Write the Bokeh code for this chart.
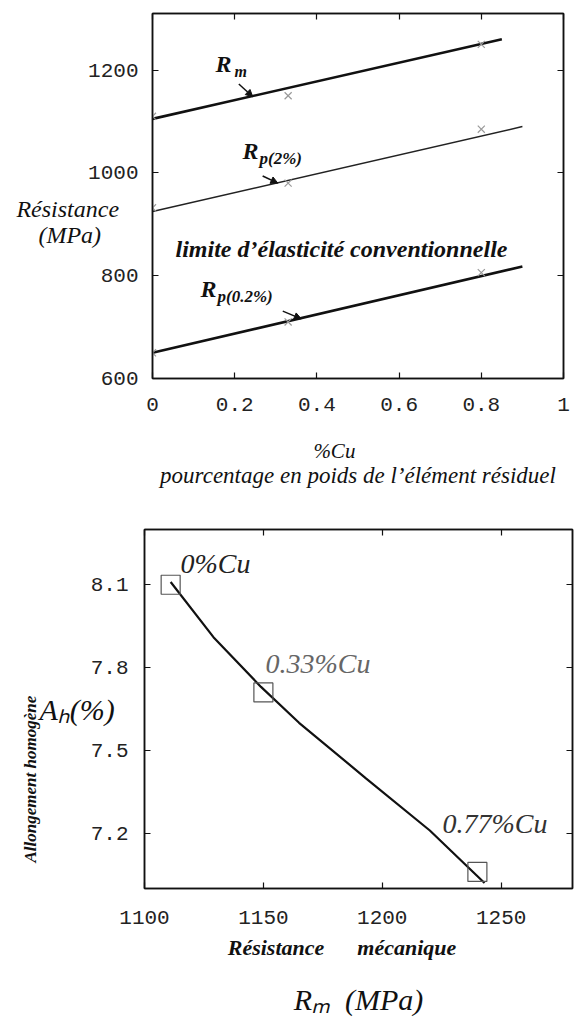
import numpy as np
from bokeh.plotting import figure
from bokeh.layouts import column
from bokeh.models import (Label, Arrow, NormalHead, LinearAxis, FixedTicker, Range1d,
                          NumeralTickFormatter, CustomLabelingPolicy)
from bokeh.embed import file_html
from bokeh.resources import INLINE

# ---------------- data: top chart ----------------
cu_pts = [0.0, 0.33, 0.80]
rm_pts = [1110, 1150, 1250]
rp2_pts = [932, 980, 1085]
rp02_pts = [650, 710, 806]
rm_fit_x = [0.0, 0.85]
rm_fit_y = [1105, 1260]
rp_fit_x = [0.0, 0.90]
rp2_fit_y = [925, 1090]
rp02_fit_y = [650, 818]
x1_ticks = [0, 0.2, 0.4, 0.6, 0.8, 1]
y1_ticks = [600, 800, 1000, 1200]

# ---------------- data: bottom chart ----------------
rm_sq = [1111, 1150, 1240]
ah_sq = [8.10, 7.71, 7.06]
sq_labels = ["0%Cu", "0.33%Cu", "0.77%Cu"]
rm_curve = [1111, 1129, 1149, 1165, 1193, 1220, 1243]
ah_curve = [8.11, 7.91, 7.73, 7.60, 7.40, 7.21, 7.02]
x2_ticks = [1100, 1150, 1200, 1250]
y2_ticks = [7.2, 7.5, 7.8, 8.1]

SERIF = "Liberation Serif"
MONO = "Liberation Mono"
W = 584
H1 = 500
H2 = 520
TOP1 = 0
TOP2 = H1
NB = "\u00a0"
HAS_ORIENT = "axis_label_orientation" in LinearAxis.properties()


def no_labels():
    return CustomLabelingPolicy(code="return new Set()")


def style_axes(p, xt, yt, xfmt, yfmt, ystand, xstand):
    for ax in p.xaxis:
        ax.ticker = FixedTicker(ticks=xt)
        ax.formatter = NumeralTickFormatter(format=xfmt)
        ax.major_label_standoff = xstand
    for ax in p.yaxis:
        ax.ticker = FixedTicker(ticks=yt)
        ax.formatter = NumeralTickFormatter(format=yfmt)
        ax.major_label_standoff = ystand
    for ax in p.axis:
        ax.major_tick_in = 6
        ax.major_tick_out = 0
        ax.minor_tick_line_color = None
        ax.axis_line_width = 1.5
        ax.axis_line_color = "#111"
        ax.major_tick_line_color = "#111"
        ax.major_tick_line_width = 1.2
        ax.major_label_text_font = MONO
        ax.major_label_text_font_size = "21px"
        ax.major_label_text_color = "#222"
    for place, t in (("right", yt), ("above", xt)):
        a = LinearAxis(ticker=FixedTicker(ticks=t), major_tick_in=6, major_tick_out=0,
                       minor_tick_line_color=None, major_label_text_font_size="2px",
                       major_label_standoff=0, major_label_policy=no_labels(),
                       axis_line_width=1.5, axis_line_color="#111",
                       major_tick_line_color="#111", major_tick_line_width=1.2)
        p.add_layout(a, place)


def set_label(a, text, size, standoff, style="italic", horizontal=False, line_height=None):
    a.axis_label = text
    a.axis_label_text_font = SERIF
    a.axis_label_text_font_style = style
    a.axis_label_text_font_size = f"{size}px"
    a.axis_label_text_color = "#111"
    a.axis_label_standoff = standoff
    if line_height is not None:
        a.axis_label_text_line_height = line_height
    if horizontal and HAS_ORIENT:
        a.axis_label_orientation = "horizontal"


def label_axis(p, place, text, size, standoff, style="italic"):
    a = LinearAxis(ticker=FixedTicker(ticks=[]), axis_line_color=None,
                   major_tick_line_color=None, minor_tick_line_color=None,
                   major_label_text_font_size="2px", major_label_standoff=0,
                   major_tick_in=0, major_tick_out=0)
    set_label(a, text, size, standoff, style)
    p.add_layout(a, place)
    return a


def lab(p, top, text, px, py, size, style="italic", align="left", color="#111"):
    p.add_layout(Label(x=px, y=py - top, x_units="canvas", y_units="canvas",
                       text=text, text_font=SERIF, text_font_size=f"{size}px",
                       text_font_style=style, text_align=align, text_baseline="middle",
                       text_color=color))


# ================= top figure =================
p1 = figure(width=W, height=H1, output_backend="svg", toolbar_location=None,
            x_range=Range1d(0, 1), y_range=Range1d(600, 1310),
            min_border_left=152, min_border_right=21, min_border_top=13, min_border_bottom=122)
p1.frame_align = False
p1.grid.visible = False
p1.outline_line_color = "#111"
p1.outline_line_width = 1.5
style_axes(p1, x1_ticks, y1_ticks, "0.[0]", "0", 14, 19)

set_label(p1.yaxis[0], NB + "\n" + NB + "\nRésistance\n(MPa)" + NB * 3, 24, -34,
          horizontal=True, line_height=1.0)
label_axis(p1, "below", "%Cu" + NB * 9, 21, 25)
label_axis(p1, "below", "pourcentage en poids de l\u2019élément résiduel", 23, -3)

p1.line(rm_fit_x, rm_fit_y, line_color="#111", line_width=2.6)
p1.line(rp_fit_x, rp2_fit_y, line_color="#222", line_width=1.5)
p1.line(rp_fit_x, rp02_fit_y, line_color="#111", line_width=2.6)
for ys in (rm_pts, rp2_pts, rp02_pts):
    p1.scatter(cu_pts, ys, marker="x", size=10, line_color="#9a9a9a", line_width=1.2)

for (x0, y0, x1, y1) in [(0.21, 1173, 0.244, 1148), (0.268, 994, 0.305, 980), (0.317, 731, 0.362, 716)]:
    p1.add_layout(Arrow(end=NormalHead(size=7, fill_color="#111", line_color="#111"),
                        x_start=x0, y_start=y0, x_end=x1, y_end=y1,
                        line_color="#111", line_width=1.5))

lab(p1, TOP1, "R", 215, 63, 24, "bold italic")
lab(p1, TOP1, "m", 234, 71, 16, "bold italic")
lab(p1, TOP1, "R", 242, 150, 24, "bold italic")
lab(p1, TOP1, "p(2%)", 259, 158, 17, "bold italic")
lab(p1, TOP1, "limite d\u2019élasticité conventionnelle", 175, 248, 24, "bold italic")
lab(p1, TOP1, "R", 200, 288, 24, "bold italic")
lab(p1, TOP1, "p(0.2%)", 217, 296, 17, "bold italic")

# ================= bottom figure =================
p2 = figure(width=W, height=H2, output_backend="svg", toolbar_location=None,
            x_range=Range1d(1100, 1280), y_range=Range1d(7.0, 8.3),
            min_border_left=144, min_border_right=12, min_border_top=29, min_border_bottom=132)
p2.frame_align = False
p2.grid.visible = False
p2.outline_line_color = "#111"
p2.outline_line_width = 1.5
style_axes(p2, x2_ticks, y2_ticks, "0", "0.0", 16, 22)

set_label(p2.yaxis[0], "A\u2095(%)", 30, -27, horizontal=True)
label_axis(p2, "left", "Allongement homogène" + NB * 33, 17, -3, style="bold italic")
label_axis(p2, "below", "Résistance" + NB * 6 + "mécanique" + NB * 6, 22, 8,
           style="bold italic")
label_axis(p2, "below", "R\u2098" + NB * 2 + "(MPa)", 30, 20)

p2.line(rm_curve, ah_curve, line_color="#111", line_width=2.2)
p2.scatter(rm_sq, ah_sq, marker="square", size=19, fill_color=None,
           line_color="#555", line_width=1.2)

lab(p2, TOP2, sq_labels[0], 180, 563, 28, "italic", color="#222")
lab(p2, TOP2, sq_labels[1], 265, 663, 28, "italic", color="#666")
lab(p2, TOP2, sq_labels[2], 442, 823, 28, "italic", color="#333")

layout = column(p1, p2, spacing=0)
open("out.html", "w").write(file_html(layout, INLINE))
